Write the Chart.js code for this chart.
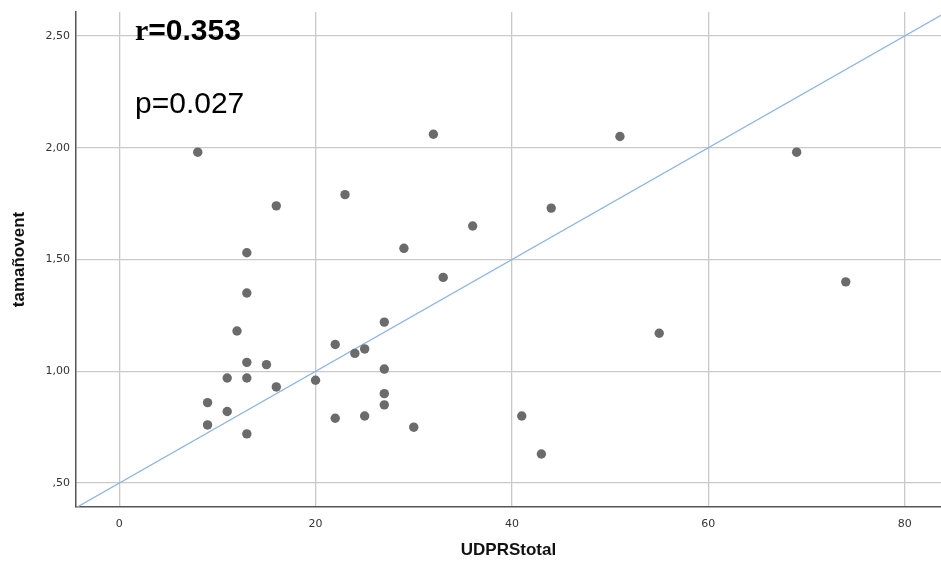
<!DOCTYPE html>
<html>
<head>
<meta charset="utf-8">
<script src="https://cdn.jsdelivr.net/npm/chart.js@4"></script>
<style>
  html, body { margin: 0; padding: 0; background: #fff; }
  canvas { display: block; }
</style>
</head>
<body>
<canvas id="js-scatter" width="941" height="562"></canvas>
<script>
// UDPRS total score vs. ventricle size
var udprsTotal = [8, 16, 23, 32, 51, 69, 44, 36, 29, 33, 74, 13, 13, 12, 55, 27, 22, 25, 24,
    15, 13, 27, 11, 13, 20, 16, 27, 9, 27, 11, 22, 25, 41, 9, 30, 13, 43];
var tamanoVent = [1.98, 1.74, 1.79, 2.06, 2.05, 1.98, 1.73, 1.65, 1.55, 1.42, 1.40, 1.53, 1.35, 1.18, 1.17, 1.22, 1.12, 1.10, 1.08,
    1.03, 1.04, 1.01, 0.97, 0.97, 0.96, 0.93, 0.90, 0.86, 0.85, 0.82, 0.79, 0.80, 0.80, 0.76, 0.75, 0.72, 0.63];

// fitted line
var fitIntercept = 0.5;
var fitSlope = 0.025;

var xRange = [-4.4, 83.7];
var yRange = [0.393, 2.607];
var xTickValues = [0, 20, 40, 60, 80];
var xTickLabels = ["0", "20", "40", "60", "80"];
var yTickValues = [0.5, 1.0, 1.5, 2.0, 2.5];
var yTickLabels = [",50", "1,00", "1,50", "2,00", "2,50"];

var statLabels = ["r=0.353", "p=0.027"];

var points = udprsTotal.map(function (x, i) {
    return {x: x, y: tamanoVent[i]};
});
var fitLine = xRange.map(function (x) {
    return {x: x, y: fitIntercept + fitSlope * x};
});

var statsText = {
    id: "statsText",
    afterDatasetsDraw: function (chart) {
        var ctx = chart.ctx;
        var x0 = chart.chartArea.left + 59;
        ctx.save();
        ctx.fillStyle = "#000";
        ctx.textBaseline = "alphabetic";
        ctx.textAlign = "left";
        // "r" in serif, the rest in sans, both bold
        ctx.font = "bold 30px 'Liberation Serif'";
        ctx.fillText("r", x0, 40);
        var rw = ctx.measureText("r").width;
        ctx.font = "bold 30px 'Liberation Sans'";
        ctx.fillText(statLabels[0].slice(1), x0 + rw, 40);
        ctx.font = "30px 'Liberation Sans'";
        ctx.fillText(statLabels[1], x0, 113);
        ctx.restore();
    }
};

function setTicks(values) {
    return function (scale) {
        scale.ticks = values.map(function (v) { return {value: v}; });
    };
}

var chart = new Chart(document.getElementById("js-scatter"), {
    type: "scatter",
    data: {
        datasets: [{
            data: points,
            backgroundColor: "#6b6b6b",
            borderWidth: 0,
            pointRadius: 4.7,
            order: 1
        }, {
            type: "line",
            data: fitLine,
            borderColor: "#8cb3e6",
            borderWidth: 1.3,
            pointRadius: 0,
            fill: false,
            order: 2
        }]
    },
    options: {
        responsive: false,
        animation: false,
        devicePixelRatio: 1,
        layout: {
            autoPadding: false,
            padding: {top: 12, right: 0, left: 0, bottom: 0}
        },
        plugins: {
            legend: {display: false},
            tooltip: {enabled: false}
        },
        scales: {
            x: {
                type: "linear",
                min: xRange[0],
                max: xRange[1],
                afterBuildTicks: setTicks(xTickValues),
                afterFit: function (scale) {
                    scale.height = 55;
                    scale.paddingLeft = 0;
                    scale.paddingRight = 0;
                },
                grid: {color: "#c9c9c9", lineWidth: 1.3, drawTicks: false},
                border: {color: "#555", width: 1.5},
                ticks: {
                    padding: 11,
                    color: "#333",
                    font: {family: "'DejaVu Sans'", size: 11},
                    callback: function (v) { return xTickLabels[xTickValues.indexOf(v)]; }
                },
                title: {
                    display: true,
                    text: "UDPRStotal",
                    color: "#111",
                    font: {family: "'Liberation Sans'", size: 17, weight: "bold"},
                    padding: {top: 0, bottom: 1}
                }
            },
            y: {
                type: "linear",
                min: yRange[0],
                max: yRange[1],
                afterBuildTicks: setTicks(yTickValues),
                afterFit: function (scale) {
                    scale.width = 76;
                    scale.paddingTop = 0;
                    scale.paddingBottom = 0;
                },
                grid: {color: "#c9c9c9", lineWidth: 1.3, drawTicks: false},
                border: {color: "#555", width: 1.5},
                ticks: {
                    padding: 6,
                    color: "#333",
                    font: {family: "'DejaVu Sans'", size: 11},
                    callback: function (v) { return yTickLabels[yTickValues.indexOf(v)]; }
                },
                title: {
                    display: true,
                    text: "tamañovent",
                    color: "#111",
                    font: {family: "'Liberation Sans'", size: 17, weight: "bold"},
                    padding: {top: 9, bottom: 0}
                }
            }
        }
    },
    plugins: [statsText]
});
</script>
</body>
</html>
